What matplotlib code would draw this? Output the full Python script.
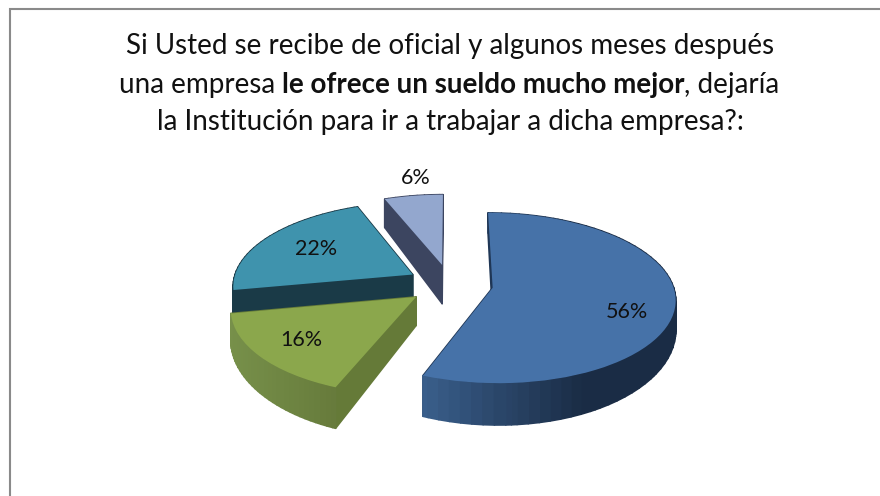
import numpy as np
import matplotlib
matplotlib.use("Agg")
import matplotlib.pyplot as plt
from matplotlib.transforms import Transform, Affine2D
from matplotlib.collections import PolyCollection
from matplotlib.colors import to_rgb

values = [56, 16, 22, 6]
top_colors = ["#4672A8", "#8BA74C", "#3F93AD", "#93A7CE"]
wall_left = ["#3A5F8C", "#77904A", "#1A3A47", "#3C4560"]
wall_right = ["#1A2C45", "#65793A", "#1A3A47", "#3C4560"]
wall_radial = ["#1F3655", "#657A38", "#1A3A47", "#3C4560"]
wall_depth = [28.0, 27.0, 25.0, 42.0]
label_xy = [(627, 312), (301, 340), (316, 249), (416, 178)]
title_1 = "Si Usted se recibe de oficial y algunos meses después"
title_2a = "una empresa "
title_2b = "le ofrece un sueldo mucho mejor"
title_2c = ", dejaría"
title_3 = "la Institución para ir a trabajar a dicha empresa?:"

FONT = "Lato"
W, H = 880, 496
X0, Y0, RX, RY, P = 450.0, 284.0, 180.0, 83.0, 0.12


class Persp(Transform):
    input_dims = output_dims = 2
    is_separable = False
    has_inverse = False

    def __init__(self, drop=0.0):
        super().__init__()
        self.drop = drop

    def transform_non_affine(self, values):
        v = np.asarray(values, float)
        w = 1 + P * v[:, 1]
        return np.column_stack([X0 + RX * v[:, 0] / w,
                                Y0 - RY * v[:, 1] / w + self.drop / w ** 3])


fig = plt.figure(figsize=(W / 100, H / 100), dpi=100, facecolor="white")
ax = fig.add_axes([0, 0, 1, 1])
wedges, _, autotexts = ax.pie(
    values, colors=top_colors, startangle=90, counterclock=False,
    explode=[0.24] * 4, autopct="%.0f%%", radius=1.0,
    wedgeprops={"linewidth": 0},
    textprops={"family": FONT, "fontsize": 15.5, "color": "#111111"},
)
ax.set_aspect("auto")
ax.set_xlim(0, W)
ax.set_ylim(H, 0)
ax.axis("off")

top_tf = Persp(0.0)
draw_order = [3, 2, 1, 0]
for z, i in enumerate(draw_order):
    wedge = wedges[i]
    low_tf = Persp(wall_depth[i])
    scale = 400.0
    poly = wedge.get_path().to_polygons(Affine2D().scale(scale))[0] / scale
    up = top_tf.transform_non_affine(poly)
    lo = low_tf.transform_non_affine(poly)
    xmin, xmax = up[:, 0].min(), up[:, 0].max()
    c0, c1 = np.array(to_rgb(wall_left[i])), np.array(to_rgb(wall_right[i]))
    quads, cols, keys = [], [], []
    for k in range(len(poly) - 1):
        quad = [up[k], up[k + 1], lo[k + 1], lo[k]]
        seg = np.hypot(*(poly[k + 1] - poly[k]))
        if seg > 0.3:
            col = to_rgb(wall_radial[i])
        else:
            t = ((up[k, 0] + up[k + 1, 0]) / 2 - xmin) / max(xmax - xmin, 1)
            col = c0 + (c1 - c0) * np.clip(t * 1.6, 0, 1)
        quads.append(quad)
        cols.append(col)
        keys.append(np.mean([p[1] for p in quad]))
    order = np.argsort(keys)
    pc = PolyCollection([quads[j] for j in order],
                        facecolors=[cols[j] for j in order],
                        edgecolors=[cols[j] for j in order],
                        linewidths=1.2, zorder=2 + 2 * z)
    ax.add_collection(pc)
    wedge.set_transform(top_tf + ax.transData)
    wedge.set_zorder(3 + 2 * z)
    wedge.set_clip_on(False)

for txt, xy in zip(autotexts, label_xy):
    txt.set_position(xy)
    txt.set_ha("center")
    txt.set_va("center")
    txt.set_zorder(30)

# chart border: only the top and left edges survive in the crop
ax.plot([9.5, 9.5, W], [H, 8.5, 8.5], color="#8A8A8A", lw=1.5, zorder=1,
        solid_joinstyle="miter", clip_on=False)

TITLE_SIZE = 20.0
renderer = fig.canvas.get_renderer()


def width(s, weight):
    a = ax.text(0, 0, s + "|", family=FONT, fontsize=TITLE_SIZE, weight=weight)
    b = ax.text(0, 0, "|", family=FONT, fontsize=TITLE_SIZE, weight=weight)
    w_ = a.get_window_extent(renderer).width - b.get_window_extent(renderer).width
    a.remove()
    b.remove()
    return w_


for s, y in ((title_1, 54), (title_3, 130)):
    ax.text(450, y, s, family=FONT, fontsize=TITLE_SIZE, ha="center",
            va="baseline", color="#111111")
parts = [(title_2a, "normal"), (title_2b, "bold"), (title_2c, "normal")]
widths = [width(s, wt) for s, wt in parts]
x = 449 - sum(widths) / 2
for (s, wt), w_ in zip(parts, widths):
    ax.text(x, 93, s.rstrip() if s.endswith(" ") else s, family=FONT,
            fontsize=TITLE_SIZE, weight=wt, ha="left", va="baseline",
            color="#111111")
    x += w_

fig.savefig("out.png", dpi=100, facecolor="white")
